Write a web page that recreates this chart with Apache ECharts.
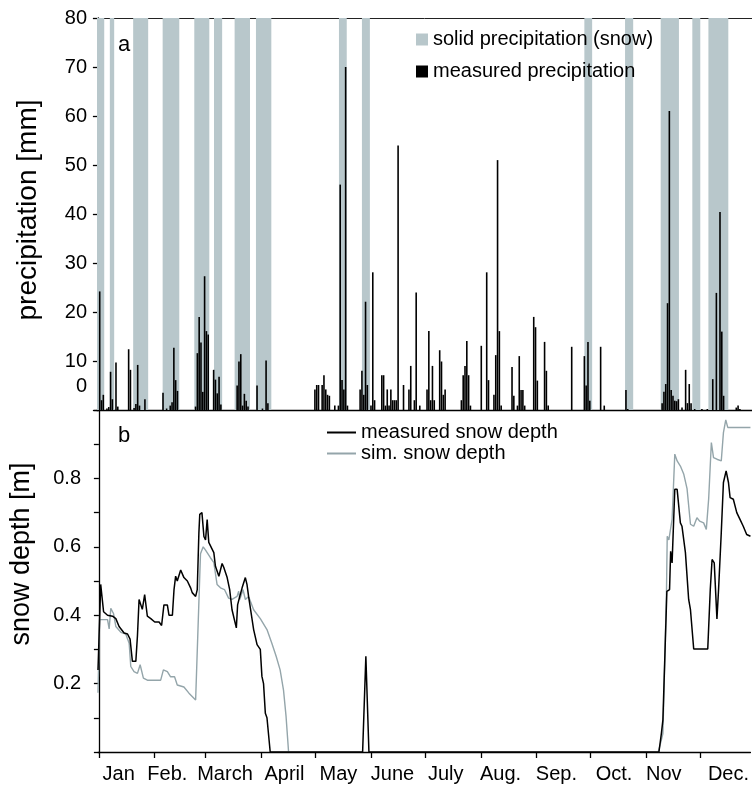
<!DOCTYPE html>
<html><head><meta charset="utf-8">
<script src="https://cdn.jsdelivr.net/npm/echarts@6/dist/echarts.min.js"></script>
<style>html,body{margin:0;padding:0;background:#fff}#c{width:752px;height:785px}</style>
</head><body><div id="c"></div>
<script>
// ---- data ----
const monthStarts = [0,31,59,90,120,151,181,212,243,273,304,334];
const monthNames = ['Jan','Feb.','March','April','May','June','July','Aug.','Sep.','Oct.','Nov','Dec.'];
const monthLabelDays = [11,38,70,103,133,163,192.5,223,254,286,313.6,349.5];

// solid precipitation periods [startDay, endDay]
const snowPeriods = [[-0.5,3.5],[6.6,9.0],[19.5,27.8],[35.8,45.0],[53.3,61.6],[64.2,68.7],[75.6,84.1],[87.4,95.9],[133.3,137.6],[146,150.4],[269,273.3],[291.5,296],[311.2,321.3],[328.7,333.1],[337.6,348.6]];

// daily measured precipitation [day, mm]
const precipitation = [
[1,24.2],[2,2],[3,3.1],[5,0.3],[6,0.6],[7,7.8],[8,2.2],[10,9.7],[11,0.7],[17,12.4],[18,8.2],[20,0.4],[21,1.2],[22,9.2],[23,0.9],[26,2.2],
[36,3.5],[38,0.3],[40,0.9],[41,1.6],[42,12.7],[43,6.1],[44,3.9],[54,0.7],[55,11.6],[56,19],[57,13.8],[58,3.7],[59,27.3],[60,16.1],[61,15.4],
[64,8.2],[65,6.2],[66,3.4],[67,6.8],[68,1.1],[77,5],[78,9.9],[79,11.4],[80,0.9],[81,3.3],[82,1.9],[83,0.7],[88,5],[91,0.3],[93,10.1],[94,1.4],
[120,4.2],[121,5.1],[122,5.1],[124,5.1],[125,7.1],[126,4.2],[127,3.1],[128,2.9],[131,0.9],[133,0.9],[134,46],[135,6.1],[136,4.2],[137,70],[138,0.9],
[145,4.2],[146,8],[147,3.1],[148,22.1],[149,5.1],[151,0.9],[152,28.1],[153,2],[157,7.1],[158,7.1],[159,0.9],[160,4.2],[161,0.9],[162,4.2],[163,2],[164,2],[165,2],[166,54],
[169,5.1],[172,4.2],[173,9],[175,2],[176,24],[178,0.9],[182,4.2],[183,16.1],[184,2],[185,9],[186,2],[189,12.2],[190,9.9],[191,3.1],[192,4.2],
[201,2],[202,7.1],[203,9],[204,14.1],[205,7.1],[206,0.9],[212,13.1],[215,28.1],[216,6.1],[219,3.1],[220,11.2],[221,51],[222,16.1],[223,0.9],
[229,8.8],[230,2.9],[232,0.9],[233,11],[234,4.1],[235,4.1],[236,0.9],[241,19],[242,16.9],[243,6],[247,13.9],[248,8],[249,0.9],
[262,12.9],[269,11],[270,5],[271,13.9],[272,1.9],[278,12.9],[280,0.9],[292,4.1],[293,0.2],
[312,1.4],[313,3.7],[314,5.3],[315,21.8],[316,61],[317,4.1],[318,2.9],[319,1.9],[320,1.8],[321,2.2],[323,0.5],[325,8.2],[326,1.4],[327,5.3],[328,1.4],
[330,0.2],[334,0.2],[337,0.2],[340,6.3],[342,23.9],[344,40.4],[345,16],[346,2.9],[353,0.5],[354,0.9],[355,0.2]
];

// measured snow depth [day, m]
const measuredSnow = [
[-0.5,0.24],[1,0.49],[2.6,0.41],[4.8,0.40],[7.6,0.397],[9.4,0.39],[11.2,0.367],[14,0.348],[15.9,0.345],[17.3,0.33],[18.6,0.265],[20.5,0.265],[21.4,0.34],[22.3,0.446],
[24.1,0.417],[25.4,0.46],[26.9,0.397],[28.8,0.39],[31,0.38],[33.4,0.38],[34.8,0.37],[36.1,0.43],[38,0.43],[38.9,0.40],[40.8,0.40],[41.7,0.475],[42.6,0.514],[43.5,0.50],
[45.4,0.532],[47.2,0.51],[49.1,0.50],[50.9,0.48],[51.8,0.466],[53.7,0.455],[54.6,0.475],[55.5,0.64],[56,0.695],[57.2,0.70],[58.3,0.63],[59.2,0.62],[60.1,0.68],[61,0.613],
[62,0.61],[63.8,0.583],[64.7,0.543],[66.6,0.514],[68.4,0.551],[69.3,0.54],[71.2,0.51],[72.6,0.475],[73.9,0.416],[76.3,0.363],[77,0.43],[78.2,0.455],[79.5,0.48],[81.3,0.51],
[82.2,0.49],[83.1,0.455],[85.9,0.358],[87.8,0.314],[89.6,0.30],[90.5,0.221],[91.4,0.2],[92.4,0.113],[93.3,0.10],[95.1,0],[146.4,0],[148.2,0.28],[149.9,0],
[310.9,0],[312.3,0.056],[313.1,0.094],[315.3,0.47],[316.8,0.475],[317.4,0.587],[318.2,0.553],[319.7,0.768],[321,0.768],[322.8,0.67],[323.7,0.66],[325.6,0.583],[327.4,0.446],
[328.4,0.416],[330.2,0.301],[338,0.301],[339.4,0.475],[340.4,0.563],[341.6,0.553],[343.1,0.389],[344,0.475],[345.5,0.641],[346.7,0.788],[348.2,0.822],[349.5,0.788],
[350.4,0.744],[352.2,0.739],[354.1,0.70],[355.9,0.68],[357.7,0.66],[359.6,0.636],[361.7,0.631]
];

// simulated snow depth [day, m]
const simSnow = [
[-0.5,0.173],[0.4,0.387],[4.8,0.387],[5.7,0.36],[6.6,0.42],[8.1,0.405],[9.4,0.367],[12.2,0.35],[14.9,0.345],[16.8,0.318],[17.7,0.25],[19.5,0.235],[21.4,0.23],[22.9,0.255],
[24.7,0.216],[26.9,0.21],[34.3,0.21],[35.8,0.24],[38,0.235],[39.8,0.22],[42,0.22],[43.5,0.196],[47.2,0.19],[50,0.172],[53.7,0.152],[54.6,0.15],[56.4,0.58],[57.9,0.60],
[59.2,0.59],[61.9,0.568],[63.8,0.554],[65.6,0.49],[67.5,0.48],[69.7,0.475],[72,0.45],[73.9,0.446],[76.7,0.455],[77.6,0.47],[78.2,0.446],[80,0.475],[81.3,0.446],[83.1,0.455],
[85.9,0.416],[89.6,0.39],[93.3,0.358],[96,0.318],[98.4,0.28],[100.6,0.24],[102.5,0.18],[103.9,0.104],[105.3,0],[200,'-'],
[310.5,0],[311.8,0.026],[313.1,0.054],[314.2,0.28],[315.1,0.475],[315.5,0.631],[316.4,0.62],[317.3,0.625],[318.2,0.68],[319.7,0.871],[321,0.851],[322.8,0.836],[324.7,0.812],
[326.5,0.77],[328.4,0.666],[330.2,0.66],[332,0.685],[333.5,0.675],[335.7,0.67],[337.2,0.651],[338.5,0.74],[340,0.905],[341.2,0.861],[343.1,0.856],[345.5,0.851],[346.7,0.934],
[348,0.971],[349.1,0.949],[361.7,0.949]
];

const precipTicks = [0,10,20,30,40,50,60,70,80];
const snowLabelValues = [0.2,0.4,0.6,0.8];

// ---- chart ----
const FONT = 'Liberation Sans, Arial, sans-serif';
const BAND = '#b8c7cb';
const SIMC = '#94a5aa';
const chart = echarts.init(document.getElementById('c'), null, {renderer:'canvas'});
const axisLine = {show:true, lineStyle:{color:'#000', width:1.3}};
const xMin = -0.5, xMax = 361.7;

chart.setOption({
  animation:false,
  textStyle:{fontFamily:FONT, color:'#000'},
  grid:[{left:97, top:18, right:0, height:392},{left:97, top:410, right:0, height:342}],
  legend:[
    {left:411, top:24.5, orient:'vertical', itemWidth:12, itemHeight:12, itemGap:12, icon:'rect',
     textStyle:{fontSize:20, fontFamily:FONT, color:'#000'},
     data:['solid precipitation (snow)','measured precipitation']},
    {left:322, top:417.5, orient:'vertical', itemWidth:29, itemHeight:2, itemGap:1, icon:'rect',
     textStyle:{fontSize:20, fontFamily:FONT, color:'#000', lineHeight:20},
     data:['measured snow depth','sim. snow depth']}
  ],
  xAxis:[
    {gridIndex:0, type:'value', min:xMin, max:xMax, axisLine:axisLine, axisTick:{show:false}, axisLabel:{show:false}, splitLine:{show:false}},
    {gridIndex:0, type:'value', position:'top', min:xMin, max:xMax, axisLine:{show:true, lineStyle:{color:'#222', width:1}}, axisTick:{show:false}, axisLabel:{show:false}, splitLine:{show:false}},
    {gridIndex:1, type:'value', min:xMin, max:xMax, axisLine:axisLine, splitLine:{show:false},
     axisTick:{show:true, customValues:monthStarts, length:6, lineStyle:{color:'#000', width:1.3}},
     axisLabel:{customValues:monthLabelDays, fontSize:20, color:'#000', margin:12, fontFamily:FONT,
       formatter:(v)=>{const i = monthLabelDays.indexOf(v); return i>=0 ? monthNames[i] : '';}}}
  ],
  yAxis:[
    {gridIndex:0, type:'value', min:0, max:80, interval:10, axisLine:axisLine,
     axisTick:{show:true, length:5, lineStyle:{color:'#000', width:1.3}},
     axisLabel:{fontSize:20, color:'#000', margin:10, fontFamily:FONT, formatter:(v)=> v===0 ? '' : String(v)},
     splitLine:{show:false},
     name:'precipitation [mm]', nameLocation:'middle', nameGap:55,
     nameTextStyle:{fontSize:28, color:'#000', fontFamily:FONT, padding:[0,0,0,8]}},
    {gridIndex:1, type:'value', min:0, max:1, interval:0.1, axisLine:axisLine,
     axisTick:{show:true, length:5, lineStyle:{color:'#000', width:1.3}},
     axisLabel:{fontSize:20, color:'#000', margin:17, fontFamily:FONT,
       formatter:(v)=>{const r = Math.round(v*10)/10; return snowLabelValues.indexOf(r)>=0 ? r.toFixed(1) : '';}},
     splitLine:{show:false},
     name:'snow depth [m]', nameLocation:'middle', nameGap:63,
     nameTextStyle:{fontSize:27, color:'#000', fontFamily:FONT, padding:[0,0,0,54]}}
  ],
  graphic:[
    {type:'text', left:118, top:34, style:{text:'a', fontSize:22, fontFamily:FONT, fill:'#000'}},
    {type:'text', left:118, top:425, style:{text:'b', fontSize:22, fontFamily:FONT, fill:'#000'}},
    {type:'text', left:76, top:376, style:{text:'0', fontSize:20, fontFamily:FONT, fill:'#000'}}
  ],
  series:[
    {name:'solid precipitation (snow)', type:'custom', xAxisIndex:0, yAxisIndex:0, z:1,
     itemStyle:{color:BAND}, encode:{x:[0,1]}, data:snowPeriods, silent:true,
     renderItem:(params, api)=>{
       const p1 = api.coord([api.value(0), 80]);
       const p2 = api.coord([api.value(1), 0]);
       return {type:'rect', shape:{x:p1[0], y:p1[1], width:p2[0]-p1[0], height:p2[1]-p1[1]}, style:{fill:BAND}};
     }},
    {name:'measured precipitation', type:'bar', xAxisIndex:0, yAxisIndex:0, z:3, barWidth:1.6,
     itemStyle:{color:'#000'}, data:precipitation, silent:true},
    {name:'measured snow depth', type:'line', xAxisIndex:2, yAxisIndex:1, z:4, symbol:'none', showSymbol:false,
     lineStyle:{color:'#000', width:1.5}, itemStyle:{color:'#000'}, data:measuredSnow, silent:true},
    {name:'sim. snow depth', type:'line', xAxisIndex:2, yAxisIndex:1, z:3, symbol:'none', showSymbol:false,
     lineStyle:{color:SIMC, width:1.4}, itemStyle:{color:SIMC}, data:simSnow, silent:true}
  ]
});
</script></body></html>
